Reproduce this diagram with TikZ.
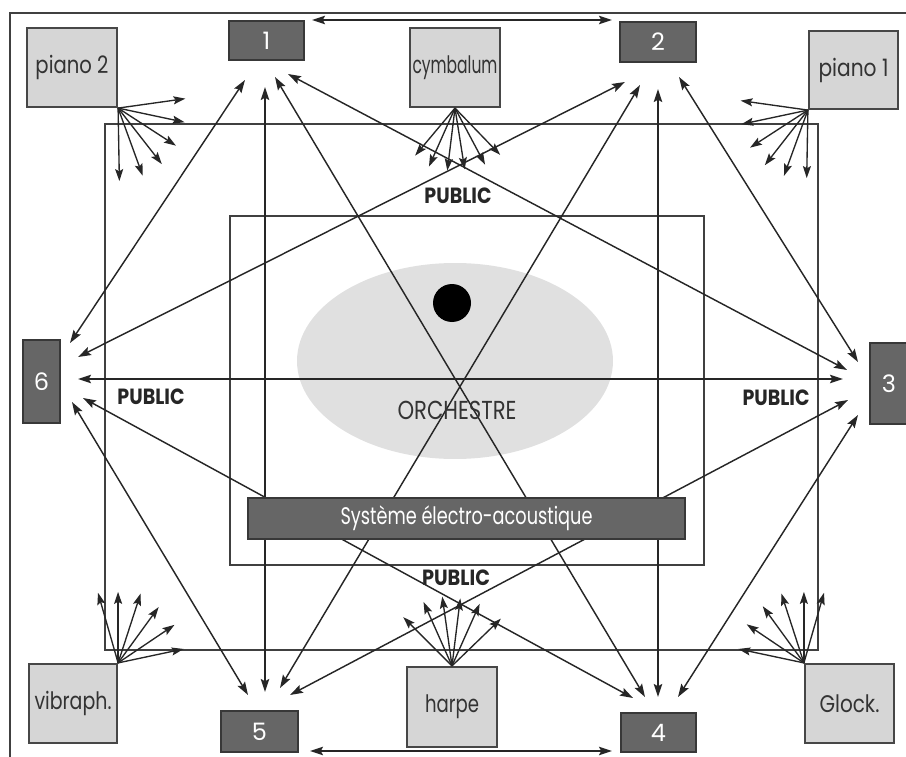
\documentclass[tikz,border=0pt]{standalone}
\usepackage{fontspec}
\setmainfont{Poppins}
\usetikzlibrary{arrows.meta}
\newcommand\fitw[2]{\resizebox{#1}{\height}{#2}}
\begin{document}
\begin{tikzpicture}[x=1pt,y=-1pt,
  tipA/.tip={Stealth[length=13pt,width=8.5pt,inset=2.2pt]},
  link/.style={draw=black!85, line width=1.45pt, tipA-tipA},
  fanarrow/.style={draw=black!85, line width=1.35pt, -{Stealth[length=12pt,width=8pt,inset=2.2pt]}},
  spk/.style={draw=black!78, line width=1.8pt, fill=black!60, text=white, font=\fontsize{24}{24}\selectfont, inner sep=0pt},
  instr/.style={draw=black!72, line width=2.2pt, fill=black!16, text=black!80, font=\fontsize{24}{24}\selectfont, inner sep=0pt},
  frameline/.style={draw=black!75, line width=2pt},
  publabel/.style={font=\bfseries\fontsize{22}{22}\selectfont, text=black!85}
]
\useasboundingbox (0,0) rectangle (906,757);
% frames
\draw[frameline] (10,757) -- (10,13) -- (906,13);
\draw[frameline] (105,124) rectangle (818,650);
\draw[frameline] (230,216) rectangle (704,565);
% orchestra ellipse
\fill[black!12] (455,361) ellipse [x radius=158, y radius=98];
% ports
\coordinate (p12) at (312,20);  \coordinate (p21) at (612,20);
\coordinate (p16) at (245,80);  \coordinate (p15) at (265,87);
\coordinate (p14) at (275,77);  \coordinate (p13) at (288,74);
\coordinate (p26) at (625,82);  \coordinate (p25) at (640,85);
\coordinate (p24) at (658,89);  \coordinate (p23) at (679,77);
\coordinate (p61) at (70,343);  \coordinate (p62) at (78,357);
\coordinate (p63) at (78,379);  \coordinate (p64) at (83,398);
\coordinate (p65) at (72,402);
\coordinate (p32) at (858,362); \coordinate (p31) at (847,370);
\coordinate (p36) at (843,379); \coordinate (p35) at (848,400);
\coordinate (p34) at (858,415);
\coordinate (p56) at (248,695); \coordinate (p51) at (265,692);
\coordinate (p52) at (280,688); \coordinate (p53) at (290,695);
\coordinate (p54) at (310,751);
\coordinate (p46) at (633,698); \coordinate (p41) at (645,697);
\coordinate (p42) at (658,697); \coordinate (p43) at (678,697);
\coordinate (p45) at (612,751);
% links between loudspeakers
\draw[link] (p12) -- (p21);
\draw[link] (p54) -- (p45);
\draw[link] (p16) -- (p61);
\draw[link] (p15) -- (p51);
\draw[link] (p14) -- (p41);
\draw[link] (p13) -- (p31);
\draw[link] (p26) -- (p62);
\draw[link] (p25) -- (p52);
\draw[link] (p24) -- (p42);
\draw[link] (p23) -- (p32);
\draw[link] (p63) -- (p36);
\draw[link] (p64) -- (p46);
\draw[link] (p65) -- (p56);
\draw[link] (p35) -- (p53);
\draw[link] (p34) -- (p43);
% centre marks
\fill[black] (452,303) circle (19);
\node[font=\fontsize{26}{26}\selectfont, text=black!80] (orch) at (457,410) {\fitw{119pt}{ORCHESTRE}};
\node[publabel] (pubN) at (458,196) {\fitw{67pt}{PUBLIC}};
\node[publabel] (pubW) at (151,397) {\fitw{67pt}{PUBLIC}};
\node[publabel] (pubE) at (776,398) {\fitw{67pt}{PUBLIC}};
\node[publabel] (pubS) at (456,578) {\fitw{68pt}{PUBLIC}};
% electro-acoustic bar
\node[spk, minimum width=437pt, minimum height=41pt, font=\fontsize{24}{24}\selectfont] (bar) at (466.5,518.5) {\fitw{252pt}{Système électro-acoustique}};
% loudspeakers
\node[spk, minimum width=75pt, minimum height=39pt] (s1) at (266.5,40.5) {1};
\node[spk, minimum width=76pt, minimum height=40pt] (s2) at (658,42) {2};
\node[spk, minimum width=38pt, minimum height=81pt] (s3) at (889,383.5) {3};
\node[spk, minimum width=75pt, minimum height=39pt] (s4) at (658.5,732.5) {4};
\node[spk, minimum width=77pt, minimum height=41pt] (s5) at (259.5,731.5) {5};
\node[spk, minimum width=37pt, minimum height=83pt] (s6) at (41.5,381.5) {6};
% instruments
\node[instr, minimum width=90pt, minimum height=79pt] (pno2) at (72,67.5) {\fitw{73pt}{piano 2}};
\node[instr, minimum width=90pt, minimum height=79pt] (cymb) at (455,67.5) {\fitw{85pt}{cymbalum}};
\node[instr, minimum width=89pt, minimum height=78pt] (pno1) at (853.5,70) {\fitw{70pt}{piano 1}};
\node[instr, minimum width=88pt, minimum height=79pt] (vib) at (73,703.5) {\fitw{77pt}{vibraph.}};
\node[instr, minimum width=90pt, minimum height=80pt] (harp) at (452,707) {\fitw{54pt}{harpe}};
\node[instr, minimum width=89pt, minimum height=79pt] (glock) at (849.5,703.5) {\fitw{60pt}{Glock.}};
% fans
\foreach \a/\r in {-8/68,12/68,33/69,52/71,70/72,89/73}
  \draw[fanarrow] (pno2.south east) -- ++(\a:\r);
\foreach \a/\r in {188/68,168/68,147/69,128/70,110/70,91/68}
  \draw[fanarrow] (pno1.south west) -- ++(\a:\r);
\foreach \a/\r in {130/62,114/64,97/63,81/62,62/64,46/65}
  \draw[fanarrow] (cymb.south) -- ++(\a:\r);
\foreach \a/\r in {-106/73,-90/71,-72/73,-54/69,-34/68,-12/67}
  \draw[fanarrow] (vib.north east) -- ++(\a:\r);
\foreach \a/\r in {-168/67,-146/69,-126/70,-108/73,-90/71,-74/73}
  \draw[fanarrow] (glock.north west) -- ++(\a:\r);
\foreach \a/\r in {-135/69,-114/70,-98/70,-83/68,-66/68,-44/68}
  \draw[fanarrow] (harp.north) -- ++(\a:\r);
\end{tikzpicture}
\end{document}
